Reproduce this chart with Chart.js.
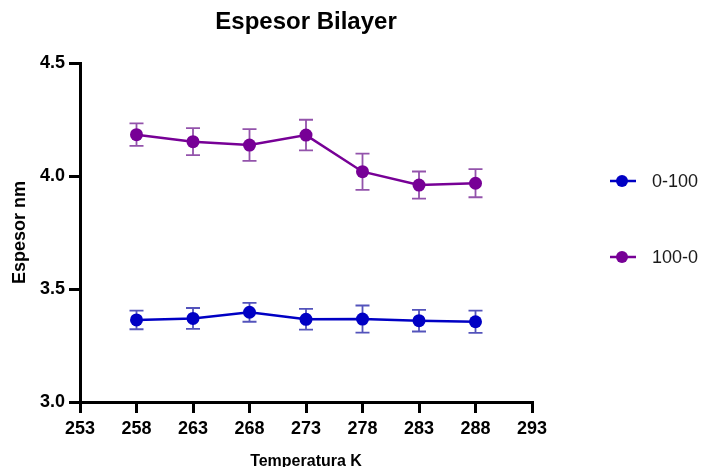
<!DOCTYPE html>
<html>
<head>
<meta charset="utf-8">
<script src="https://cdn.jsdelivr.net/npm/chart.js@4/dist/chart.umd.min.js"></script>
<style>
  html, body { margin: 0; padding: 0; background: #fff; }
  #wrap { width: 707px; height: 467px; }
</style>
</head>
<body>
<div id="wrap"><canvas id="espesorChart" width="707" height="467"></canvas></div>
<script>
// Data
const temperatures = [258, 263, 268, 273, 278, 283, 288];
const xTicks = [253, 258, 263, 268, 273, 278, 283, 288, 293];
const yTicks = [3.0, 3.5, 4.0, 4.5];

const seriesNames = ['0-100', '100-0'];
const valores0a100 = [3.363, 3.370, 3.397, 3.366, 3.367, 3.360, 3.355];
const errores0a100 = [0.041, 0.046, 0.042, 0.046, 0.060, 0.048, 0.049];
const valores100a0 = [4.183, 4.152, 4.137, 4.181, 4.019, 3.960, 3.968];
const errores100a0 = [0.050, 0.060, 0.070, 0.068, 0.080, 0.060, 0.062];

const colores = ['#0000c4', '#770096'];
const coloresError = ['rgba(40,40,170,0.8)', 'rgba(120,40,150,0.8)'];

const FONT = "'Liberation Sans', Arial, sans-serif";

function toPoints(xs, ys) {
    return xs.map((x, i) => ({ x: x, y: ys[i] }));
}

// Error bars drawn behind the points
const errorBars = {
    id: 'errorBars',
    beforeDatasetsDraw(chart) {
        const ctx = chart.ctx;
        const xs = chart.scales.x;
        const ys = chart.scales.y;
        chart.data.datasets.forEach((ds, d) => {
            ctx.save();
            ctx.strokeStyle = coloresError[d];
            ctx.lineWidth = 1.8;
            ds.data.forEach((p, i) => {
                const e = ds.errors[i];
                const px = xs.getPixelForValue(p.x);
                const top = ys.getPixelForValue(p.y + e);
                const bot = ys.getPixelForValue(p.y - e);
                ctx.beginPath();
                ctx.moveTo(px, top); ctx.lineTo(px, bot);
                ctx.moveTo(px - 7, top); ctx.lineTo(px + 7, top);
                ctx.moveTo(px - 7, bot); ctx.lineTo(px + 7, bot);
                ctx.stroke();
            });
            ctx.restore();
        });
    }
};

// Title centered over the plot area and legend on the right
const titleAndLegend = {
    id: 'titleAndLegend',
    afterDraw(chart) {
        const ctx = chart.ctx;
        const area = chart.chartArea;
        ctx.save();
        ctx.fillStyle = '#000';
        ctx.font = 'bold 24px ' + FONT;
        ctx.textAlign = 'center';
        ctx.textBaseline = 'middle';
        ctx.fillText('Espesor Bilayer', (area.left + area.right) / 2, 22);

        const legendY = [181, 257];
        seriesNames.forEach((name, i) => {
            const y = legendY[i];
            ctx.strokeStyle = colores[i];
            ctx.lineWidth = 2.5;
            ctx.beginPath();
            ctx.moveTo(610, y); ctx.lineTo(636, y);
            ctx.stroke();
            ctx.fillStyle = colores[i];
            ctx.beginPath();
            ctx.arc(622, y, 6, 0, Math.PI * 2);
            ctx.fill();
            ctx.fillStyle = '#1a1a1a';
            ctx.font = '18px ' + FONT;
            ctx.textAlign = 'left';
            ctx.fillText(name, 652, y + 1);
        });
        ctx.restore();
    }
};

function createEspesorChart() {
    const ctx = document.getElementById('espesorChart').getContext('2d');
    const config = {
        type: 'line',
        data: {
            datasets: [
                {
                    label: seriesNames[0],
                    data: toPoints(temperatures, valores0a100),
                    errors: errores0a100,
                    borderColor: colores[0],
                    backgroundColor: colores[0],
                    borderWidth: 2.5,
                    pointRadius: 6.5,
                    pointBorderWidth: 0
                },
                {
                    label: seriesNames[1],
                    data: toPoints(temperatures, valores100a0),
                    errors: errores100a0,
                    borderColor: colores[1],
                    backgroundColor: colores[1],
                    borderWidth: 2.5,
                    pointRadius: 6.5,
                    pointBorderWidth: 0
                }
            ]
        },
        options: {
            responsive: false,
            animation: false,
            layout: { padding: { top: 63, right: 175, left: 0, bottom: 0 } },
            plugins: {
                legend: { display: false },
                title: { display: false },
                tooltip: { enabled: false }
            },
            scales: {
                x: {
                    type: 'linear',
                    min: 253,
                    max: 293,
                    afterBuildTicks(scale) {
                        scale.ticks = xTicks.map(v => ({ value: v }));
                    },
                    afterFit(scale) { scale.height = 65; },
                    grid: { drawOnChartArea: false, drawTicks: true, tickLength: 11, color: '#000', lineWidth: 3 },
                    border: { color: '#000', width: 3 },
                    ticks: { color: '#000', font: { family: FONT, size: 18, weight: 'bold' }, padding: 5, maxRotation: 0 },
                    title: { display: true, text: 'Temperatura K', color: '#000', font: { family: FONT, size: 16, weight: 'bold' }, padding: { top: 0, bottom: -4 } }
                },
                y: {
                    min: 3.0,
                    max: 4.5,
                    afterBuildTicks(scale) {
                        scale.ticks = yTicks.map(v => ({ value: v }));
                    },
                    afterFit(scale) { scale.width = 80; },
                    grid: { drawOnChartArea: false, drawTicks: true, tickLength: 11, color: '#000', lineWidth: 3 },
                    border: { color: '#000', width: 3 },
                    ticks: {
                        color: '#000',
                        font: { family: FONT, size: 18, weight: 'bold' },
                        padding: 4,
                        callback: v => Number(v).toFixed(1)
                    },
                    title: { display: true, text: 'Espesor nm', color: '#000', font: { family: FONT, size: 18, weight: 'bold' }, padding: { top: 9, bottom: 0 } }
                }
            }
        },
        plugins: [errorBars, titleAndLegend]
    };
    new Chart(ctx, config);
}

window.onload = function() {
    createEspesorChart();
};
</script>
</body>
</html>
